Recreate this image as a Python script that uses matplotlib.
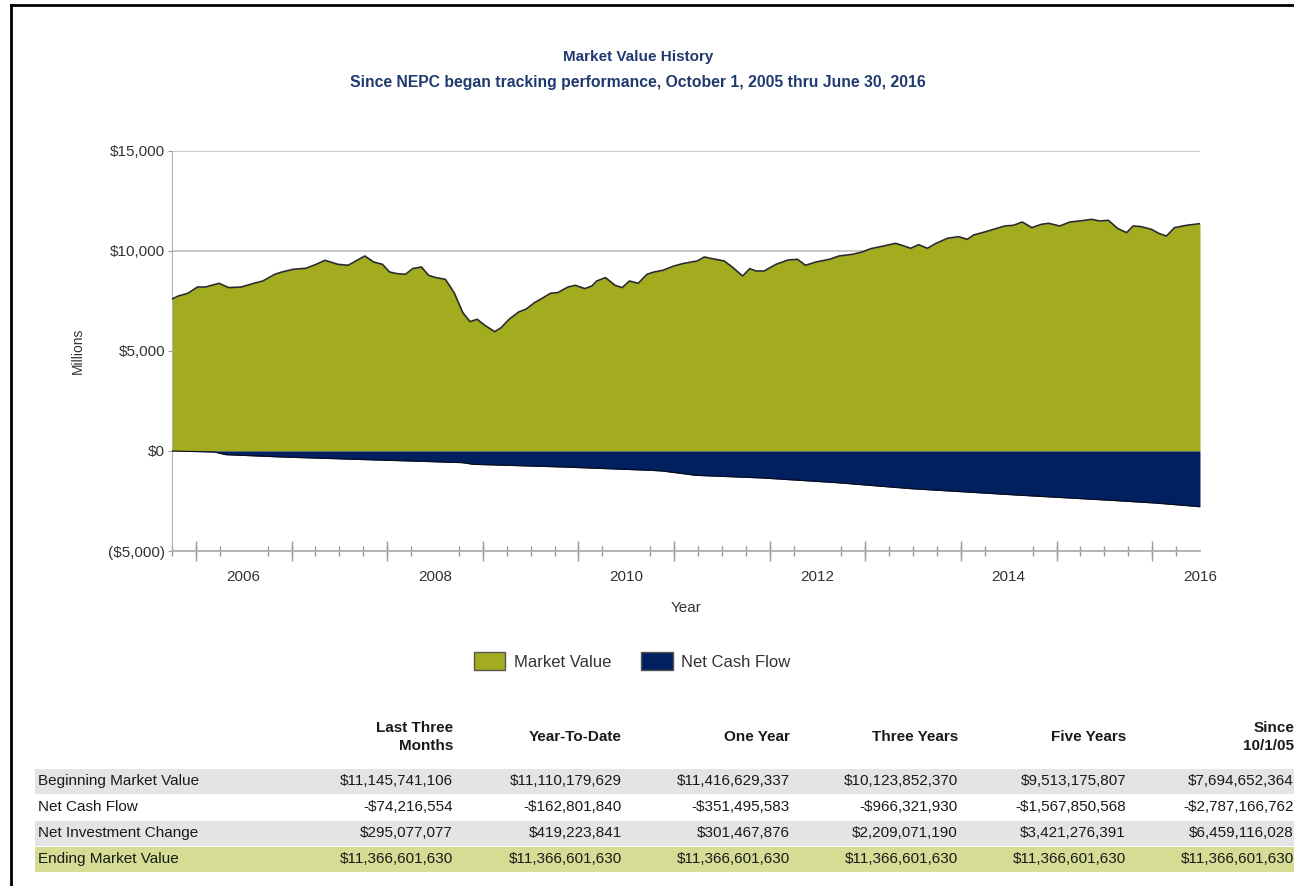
import matplotlib
matplotlib.use("Agg")
import matplotlib.pyplot as plt
from matplotlib.patches import Patch, Rectangle
from matplotlib.ticker import FixedLocator, FuncFormatter

plt.rcParams['font.family'] = ['Liberation Sans', 'DejaVu Sans']

# Market value (millions); time as months since Oct 1, 2005
mv_months = [0.0, 0.8, 2.0, 3.2, 4.2, 5.9, 7.1, 8.7, 10.3, 11.4, 12.9, 13.8, 15.2,
             16.8, 18.1, 19.2, 20.8, 22.1, 24.2, 25.3, 26.4, 27.3, 28.2, 29.3,
             30.2, 31.3, 32.2, 33.1, 34.3, 35.4, 36.5, 37.4, 38.3, 39.2, 40.5,
             41.3, 42.3, 43.5, 44.4, 45.5, 46.6, 47.5, 48.4, 49.7, 50.6, 51.8,
             52.7, 53.3, 54.4, 55.6, 56.5, 57.4, 58.5, 59.6, 60.5, 61.6, 63.0,
             64.1, 65.2, 65.9, 66.8, 67.6, 69.3, 70.4, 71.6, 72.5, 73.3, 74.3,
             75.8, 77.3, 78.5, 79.5, 80.8, 82.5, 83.7, 85.4, 86.6, 87.7, 89.3,
             90.8, 91.6, 92.7, 93.7, 94.8, 95.8, 97.3, 98.7, 99.8, 100.6, 102.0,
             103.1, 104.5, 105.6, 106.7, 107.9, 109.1, 110.0, 111.4, 112.7, 113.9,
             115.4, 116.4, 117.5, 118.7, 119.8, 120.6, 121.6, 122.9, 123.9, 124.8,
             125.8, 127.3, 129.0]
mv_values = [7600, 7750, 7885, 8200, 8200, 8385, 8170, 8200, 8385, 8500, 8835, 8950, 9085,
             9135, 9335, 9535, 9335, 9285, 9750, 9450, 9335, 8950, 8870, 8835,
             9120, 9200, 8785, 8670, 8585, 7920, 6915, 6470, 6585, 6300, 5965,
             6165, 6585, 6950, 7085, 7420, 7670, 7885, 7920, 8200, 8285, 8120,
             8250, 8500, 8670, 8285, 8170, 8500, 8385, 8835, 8950, 9035, 9250,
             9370, 9450, 9500, 9700, 9630, 9500, 9167, 8750, 9117, 9000, 9000,
             9334, 9550, 9584, 9284, 9450, 9584, 9750, 9834, 9950, 10117, 10250,
             10384, 10284, 10134, 10317, 10134, 10367, 10634, 10717, 10584, 10801, 10951,
             11084, 11251, 11284, 11451, 11168, 11334, 11384, 11251, 11451, 11501,
             11584, 11501, 11534, 11118, 10918, 11251, 11218, 11084, 10868, 10751,
             11167, 11284, 11367]

# Cumulative net cash flow (millions)
ncf_months = [0.0, 5.3, 6.7, 13.7, 23.0, 31.3, 36.4, 37.8, 49.0, 60.1, 61.5, 65.7,
              74.1, 83.4, 92.7, 106.6, 117.8, 123.3, 129.0]
ncf_values = [0, -50, -183, -300, -417, -517, -583, -667, -800, -967, -1000, -1217,
              -1350, -1584, -1884, -2217, -2467, -2600, -2787]

row_labels = ['Beginning Market Value', 'Net Cash Flow', 'Net Investment Change',
              'Ending Market Value']
col_labels = ['Last Three\nMonths', 'Year-To-Date', 'One Year', 'Three Years',
              'Five Years', 'Since\n10/1/05']
table_values = [
    ['$11,145,741,106', '$11,110,179,629', '$11,416,629,337', '$10,123,852,370',
     '$9,513,175,807', '$7,694,652,364'],
    ['-$74,216,554', '-$162,801,840', '-$351,495,583', '-$966,321,930',
     '-$1,567,850,568', '-$2,787,166,762'],
    ['$295,077,077', '$419,223,841', '$301,467,876', '$2,209,071,190',
     '$3,421,276,391', '$6,459,116,028'],
    ['$11,366,601,630', '$11,366,601,630', '$11,366,601,630', '$11,366,601,630',
     '$11,366,601,630', '$11,366,601,630'],
]

GREEN = '#A3AB1E'
NAVY = '#00205F'
TITLE_C = '#1F3A6E'
W, H = 1294, 886


def fx(px):
    return px / W


def fy(py):
    return 1 - py / H


def to_year(months):
    return [2005.75 + m / 12 for m in months]


fig = plt.figure(figsize=(W / 100, H / 100), dpi=100)

# outer frame lines (left and top)
fig.add_artist(plt.Line2D([fx(11), fx(11)], [0, fy(5)], color='black', lw=2))
fig.add_artist(plt.Line2D([fx(11), 1], [fy(5), fy(5)], color='black', lw=2))

fig.text(fx(638), fy(57), 'Market Value History', ha='center', va='center',
         fontsize=11, fontweight='bold', color=TITLE_C)
fig.text(fx(638), fy(83), 'Since NEPC began tracking performance, October 1, 2005 thru June 30, 2016',
         ha='center', va='center', fontsize=11.3, fontweight='bold', color=TITLE_C)

ax = fig.add_axes([fx(172), fy(551), fx(1200 - 172), (551 - 151) / H])

mv_x = to_year(mv_months)
ncf_x = to_year(ncf_months)
ax.fill_between(mv_x, 0, mv_values, color=GREEN, lw=0, zorder=2)
ax.plot(mv_x, mv_values, color='#2a2a2a', lw=1.2, zorder=3)
ax.fill_between(ncf_x, ncf_values, 0, color=NAVY, lw=0, zorder=2)
ax.plot(ncf_x, ncf_values, color='#0a0a1a', lw=0.8, zorder=3)

ax.set_xlim(2005.75, 2016.5)
ax.set_ylim(-5000, 15000)

ax.yaxis.set_major_locator(FixedLocator([-5000, 0, 5000, 10000, 15000]))
ax.yaxis.set_major_formatter(FuncFormatter(
    lambda v, p: f'(${abs(v):,.0f})' if v < 0 else f'${v:,.0f}'))
ax.grid(axis='y', color='#c4c4c4', lw=1.3, zorder=0)
ax.set_axisbelow(True)

# year labels mid-year, quarterly minor ticks
ax.xaxis.set_major_locator(FixedLocator([y + 0.5 for y in range(2006, 2017, 2)]))
ax.xaxis.set_major_formatter(FuncFormatter(lambda v, p: f'{int(v)}'))
ax.xaxis.set_minor_locator(FixedLocator([2006 + q / 4 for q in range(-1, 43)]))
ax.tick_params(axis='x', which='major', length=0, pad=14, labelsize=11, labelcolor='#333333')
ax.tick_params(axis='x', which='minor', direction='inout', length=7, width=1, color='#9a9a9a')
ax.tick_params(axis='y', length=3, color='#9a9a9a', labelsize=11, labelcolor='#333333', pad=2)

sec = ax.secondary_xaxis('bottom')
sec.xaxis.set_major_locator(FixedLocator(list(range(2006, 2017))))
sec.tick_params(direction='inout', length=14, width=1, color='#9a9a9a', labelbottom=False)
sec.spines['bottom'].set_visible(False)

for s in ['top', 'right']:
    ax.spines[s].set_visible(False)
ax.spines['left'].set_color('#b0b0b0')
ax.spines['bottom'].set_color('#b0b0b0')
ax.spines['bottom'].set_linewidth(1.3)

ax.set_xlabel('Year', fontsize=11, color='#333333', labelpad=12)
fig.text(fx(78), fy(351), 'Millions', rotation=90, ha='center', va='center',
         fontsize=10, color='#333333')

fig.legend(handles=[Patch(facecolor=GREEN, edgecolor='#555555', label='Market Value'),
                    Patch(facecolor=NAVY, edgecolor='#555555', label='Net Cash Flow')],
           loc='center', bbox_to_anchor=(fx(632), fy(661)), ncol=2, frameon=False,
           fontsize=12, handlelength=1.9, handleheight=1.2, columnspacing=1.8,
           handletextpad=0.5, labelcolor='#333333')

# summary table
row_y = [781, 807, 833, 859]
row_bg = ['#E4E4E4', 'white', '#E4E4E4', '#D5DD95']
col_x = [453, 622, 790, 958, 1126, 1294]
for i, label in enumerate(col_labels):
    fig.text(fx(col_x[i]), fy(737), label, ha='right', va='center', fontsize=11,
             fontweight='bold', color='#1a1a1a', linespacing=1.35)
for r, label in enumerate(row_labels):
    fig.add_artist(Rectangle((fx(35), fy(row_y[r] + 12.5)), 1 - fx(35), 25 / H,
                             transform=fig.transFigure, facecolor=row_bg[r],
                             edgecolor='none', zorder=0))
    fig.text(fx(38), fy(row_y[r]), label, ha='left', va='center', fontsize=11,
             color='#1a1a1a')
    for c, val in enumerate(table_values[r]):
        fig.text(fx(col_x[c]), fy(row_y[r]), val, ha='right', va='center',
                 fontsize=11, color='#1a1a1a')

fig.savefig('out.png', dpi=100)
